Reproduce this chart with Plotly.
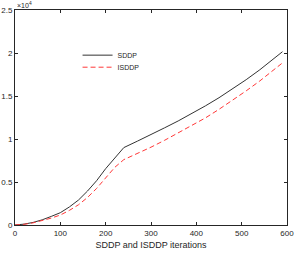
import plotly.graph_objects as go

iters = [0, 20, 40, 60, 80, 100, 120, 140, 160, 180, 200, 220, 240, 270, 300, 330, 360, 390, 420, 450, 480, 510, 540, 570, 590]
sddp = [0, 100, 300, 600, 1000, 1430, 2100, 2900, 3950, 5150, 6550, 7800, 9000, 9750, 10500, 11300, 12100, 12950, 13850, 14800, 15800, 16900, 18050, 19350, 20150]
isddp = [0, 80, 250, 500, 800, 1160, 1700, 2350, 3200, 4250, 5500, 6700, 7600, 8300, 9050, 9850, 10700, 11550, 12450, 13450, 14500, 15600, 16750, 17950, 18850]

x_ticks = [0, 100, 200, 300, 400, 500, 600]
y_ticks = [0, 5000, 10000, 15000, 20000, 25000]
y_tick_labels = ["0", "0.5", "1", "1.5", "2", "2.5"]

axis_col = "#262626"
font = "Liberation Sans, Arial, sans-serif"

fig = go.Figure()
fig.add_trace(go.Scatter(x=iters, y=sddp, mode="lines", name="SDDP",
                         line=dict(color="#333333", width=1), legend="legend"))
fig.add_trace(go.Scatter(x=iters, y=isddp, mode="lines", name="ISDDP",
                         line=dict(color="#ff3838", width=1, dash="5px,3px"), legend="legend2"))

leg = dict(xanchor="left", yanchor="middle", bgcolor="rgba(0,0,0,0)",
           font=dict(size=7, color=axis_col), itemwidth=30, borderwidth=0)

fig.update_layout(
    width=294, height=253,
    margin=dict(l=15, r=7, t=10, b=28),
    paper_bgcolor="white", plot_bgcolor="white",
    font=dict(family=font, size=8, color=axis_col),
    showlegend=True,
    legend=dict(x=0.23, y=0.79, **leg),
    legend2=dict(x=0.23, y=0.734, **leg),
    annotations=[dict(text="×10<sup>4</sup>", x=0, y=1, xref="paper", yref="paper",
                      xanchor="left", yanchor="bottom", showarrow=False,
                      font=dict(size=7, color=axis_col), yshift=-1)],
)
fig.update_xaxes(range=[0, 600], tickvals=x_ticks, ticks="inside", ticklen=3,
                 tickcolor=axis_col, showline=True, linecolor=axis_col, linewidth=1,
                 mirror="ticks", showgrid=False, zeroline=False, automargin=False,
                 ticklabeloverflow="allow",
                 title=dict(text="SDDP and ISDDP iterations", font=dict(size=9), standoff=5))
fig.update_yaxes(range=[0, 25000], tickvals=y_ticks, ticktext=y_tick_labels,
                 ticks="inside", ticklen=3, tickcolor=axis_col, showline=True,
                 linecolor=axis_col, linewidth=1, mirror="ticks", showgrid=False,
                 zeroline=False, automargin=False, ticklabeloverflow="allow")

fig.write_html("out.html", config={"displayModeBar": False},
               post_script="document.body.style.margin='0';")
